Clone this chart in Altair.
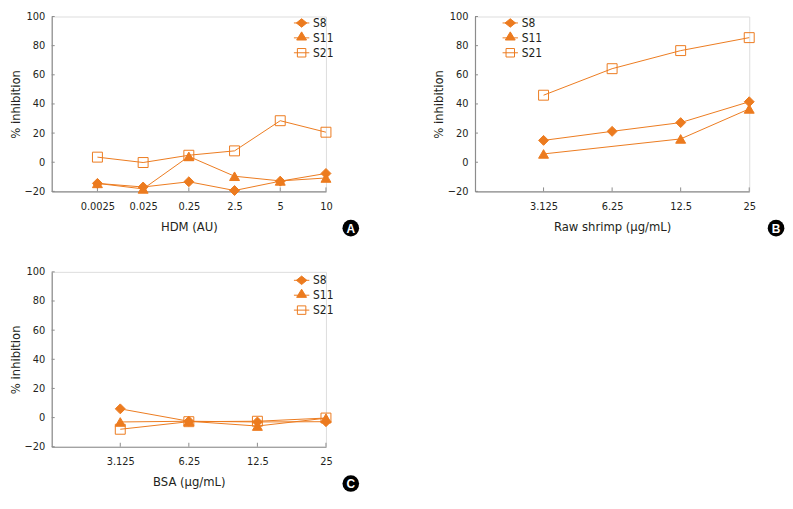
import altair as alt
import pandas as pd

ORANGE = "#EC7B1F"
AXIS_GRAY = "#8c8c8c"
TEXT = "#231F20"
FONT = "Liberation Sans Narrow, DejaVu Sans Condensed, Arial Narrow, sans-serif"

series = ["S8", "S11", "S21"]
y_ticks = [-20, 0, 20, 40, 60, 80, 100]
panel_letters = ["A", "B", "C"]

# Panel A: HDM (AU)
hdm_doses = ["0.0025", "0.025", "0.25", "2.5", "5", "10"]
hdm_s8 = [-14.5, -17.0, -13.4, -19.4, -13.0, -7.7]
hdm_s11 = [-14.5, -18.3, 4.0, -9.6, -12.8, -10.8]
hdm_s21 = [3.5, -0.2, 4.8, 7.8, 28.5, 20.6]

# Panel B: Raw shrimp (ug/mL)
shrimp_doses = ["3.125", "6.25", "12.5", "25"]
shrimp_s8 = [15.0, 21.2, 27.2, 41.5]
shrimp_s11 = [5.7, None, 16.0, 36.6]
shrimp_s21 = [46.0, 64.2, 76.6, 85.5]

# Panel C: BSA (ug/mL)
bsa_doses = ["3.125", "6.25", "12.5", "25"]
bsa_s8 = [6.0, -2.5, -3.0, -2.8]
bsa_s11 = [-3.0, -2.5, -5.8, -0.4]
bsa_s21 = [-8.0, -2.8, -2.5, -0.3]

W = 276
H = 176

POINT_SHAPES = ["diamond", "triangle-up", "square"]
POINT_FILLS = [ORANGE, ORANGE, "transparent"]
LEGEND_SHAPES = [
    "M-1,0H1M0,-0.55L0.68,0L0,0.55L-0.68,0Z",
    "M-1,0H1M0,-0.78L0.64,0.28L-0.64,0.28Z",
    "M-1,0H1M-0.55,-0.55H0.55V0.55H-0.55Z",
]


def make_panel(doses, s8, s11, s21, xtitle, letter, leg_x, leg_y, letter_dx):
    rows = []
    for name, vals in zip(series, [s8, s11, s21]):
        for i, (d, v) in enumerate(zip(doses, vals)):
            if v is not None:
                rows.append({"dose": d, "idx": i, "series": name, "value": v})
    df = pd.DataFrame(rows)

    xscale = alt.Scale(type="point", domain=doses, paddingOuter=0.5, align=1)
    yscale = alt.Scale(domain=[-20, 100], nice=False, zero=False)
    xaxis = alt.Axis(
        title=xtitle, labelAngle=0, ticks=False, tickSize=0, grid=False,
        domainColor=AXIS_GRAY, domainWidth=1.2,
        labelFont=FONT, labelFontSize=11, labelColor=TEXT, labelPadding=9,
        titleFont=FONT, titleFontSize=13, titleFontWeight="normal",
        titleColor=TEXT, titlePadding=9,
    )
    yaxis = alt.Axis(
        title="% inhibition", values=y_ticks, ticks=False, tickSize=0, grid=False,
        domainColor=AXIS_GRAY, domainWidth=1.2,
        labelFont=FONT, labelFontSize=11, labelColor=TEXT, labelPadding=7,
        titleFont=FONT, titleFontSize=13, titleFontWeight="normal",
        titleColor=TEXT, titlePadding=2,
    )
    X = alt.X("dose:O", scale=xscale, axis=xaxis)
    Y = alt.Y("value:Q", scale=yscale, axis=yaxis)

    xticks = alt.Chart(pd.DataFrame({"dose": doses})).mark_rule(
        color=AXIS_GRAY, strokeWidth=1
    ).encode(x=X, y=alt.value(H), y2=alt.value(H - 4))

    yticks = alt.Chart(pd.DataFrame({"value": y_ticks})).mark_rule(
        color=AXIS_GRAY, strokeWidth=1
    ).encode(y=Y, x=alt.value(0), x2=alt.value(3))

    lines = alt.Chart(df).mark_line(color=ORANGE, strokeWidth=1).encode(
        x=X, y=Y, detail="series:N", order="idx:Q"
    )

    points = alt.Chart(df).mark_point(
        filled=True, opacity=1, stroke=ORANGE, strokeWidth=1, size=100
    ).encode(
        x=X, y=Y,
        shape=alt.Shape("series:N", scale=alt.Scale(domain=series, range=POINT_SHAPES), legend=None),
        fill=alt.Fill("series:N", scale=alt.Scale(domain=series, range=POINT_FILLS), legend=None),
    )

    leg = alt.Legend(
        title=None, orient="none", legendX=leg_x, legendY=leg_y,
        symbolSize=240, symbolStrokeWidth=1, symbolStrokeColor=ORANGE,
        labelFont=FONT, labelFontSize=12, labelColor=TEXT, labelOffset=3,
        rowPadding=0, padding=0,
    )
    legend_layer = alt.Chart(df).transform_filter("false").mark_point(
        filled=True, opacity=1, stroke=ORANGE, strokeWidth=1
    ).encode(
        shape=alt.Shape("series:N", scale=alt.Scale(domain=series, range=LEGEND_SHAPES), legend=leg),
        fill=alt.Fill("series:N", scale=alt.Scale(domain=series, range=POINT_FILLS), legend=leg),
        stroke=alt.Stroke("series:N", scale=alt.Scale(domain=series, range=[ORANGE, ORANGE, ORANGE]), legend=leg),
    )

    ldf = pd.DataFrame({"letter": [letter]})
    circ = alt.Chart(ldf).mark_point(
        shape="circle", filled=True, color="black", opacity=1, size=280
    ).encode(x=alt.value(W + letter_dx), y=alt.value(H + 37))
    txt = alt.Chart(ldf).mark_text(
        color="white", fontWeight="bold", fontSize=12, font="Liberation Sans, Arial, sans-serif",
        baseline="middle", align="center", dy=0.5
    ).encode(x=alt.value(W + letter_dx), y=alt.value(H + 37), text="letter:N")

    return alt.layer(
        yticks, xticks, lines, points, legend_layer, circ, txt
    ).resolve_scale(shape="independent", fill="independent", stroke="independent").properties(width=W, height=H)


pA = make_panel(hdm_doses, hdm_s8, hdm_s11, hdm_s21, "HDM (AU)", panel_letters[0], W - 33, -2, 25)
pB = make_panel(shrimp_doses, shrimp_s8, shrimp_s11, shrimp_s21, "Raw shrimp (µg/mL)", panel_letters[1], 27, -2, 27)
pC = make_panel(bsa_doses, bsa_s8, bsa_s11, bsa_s21, "BSA (µg/mL)", panel_letters[2], W - 33, 0, 25)

chart = alt.vconcat(
    alt.hconcat(pA, pB, spacing=72),
    pC,
    spacing=28,
).properties(
    padding={"left": 0, "top": 0, "right": 0, "bottom": 0}
).configure_view(stroke=None).configure(background="white")

chart.save("out.html", embed_options={"renderer": "svg", "actions": False})
